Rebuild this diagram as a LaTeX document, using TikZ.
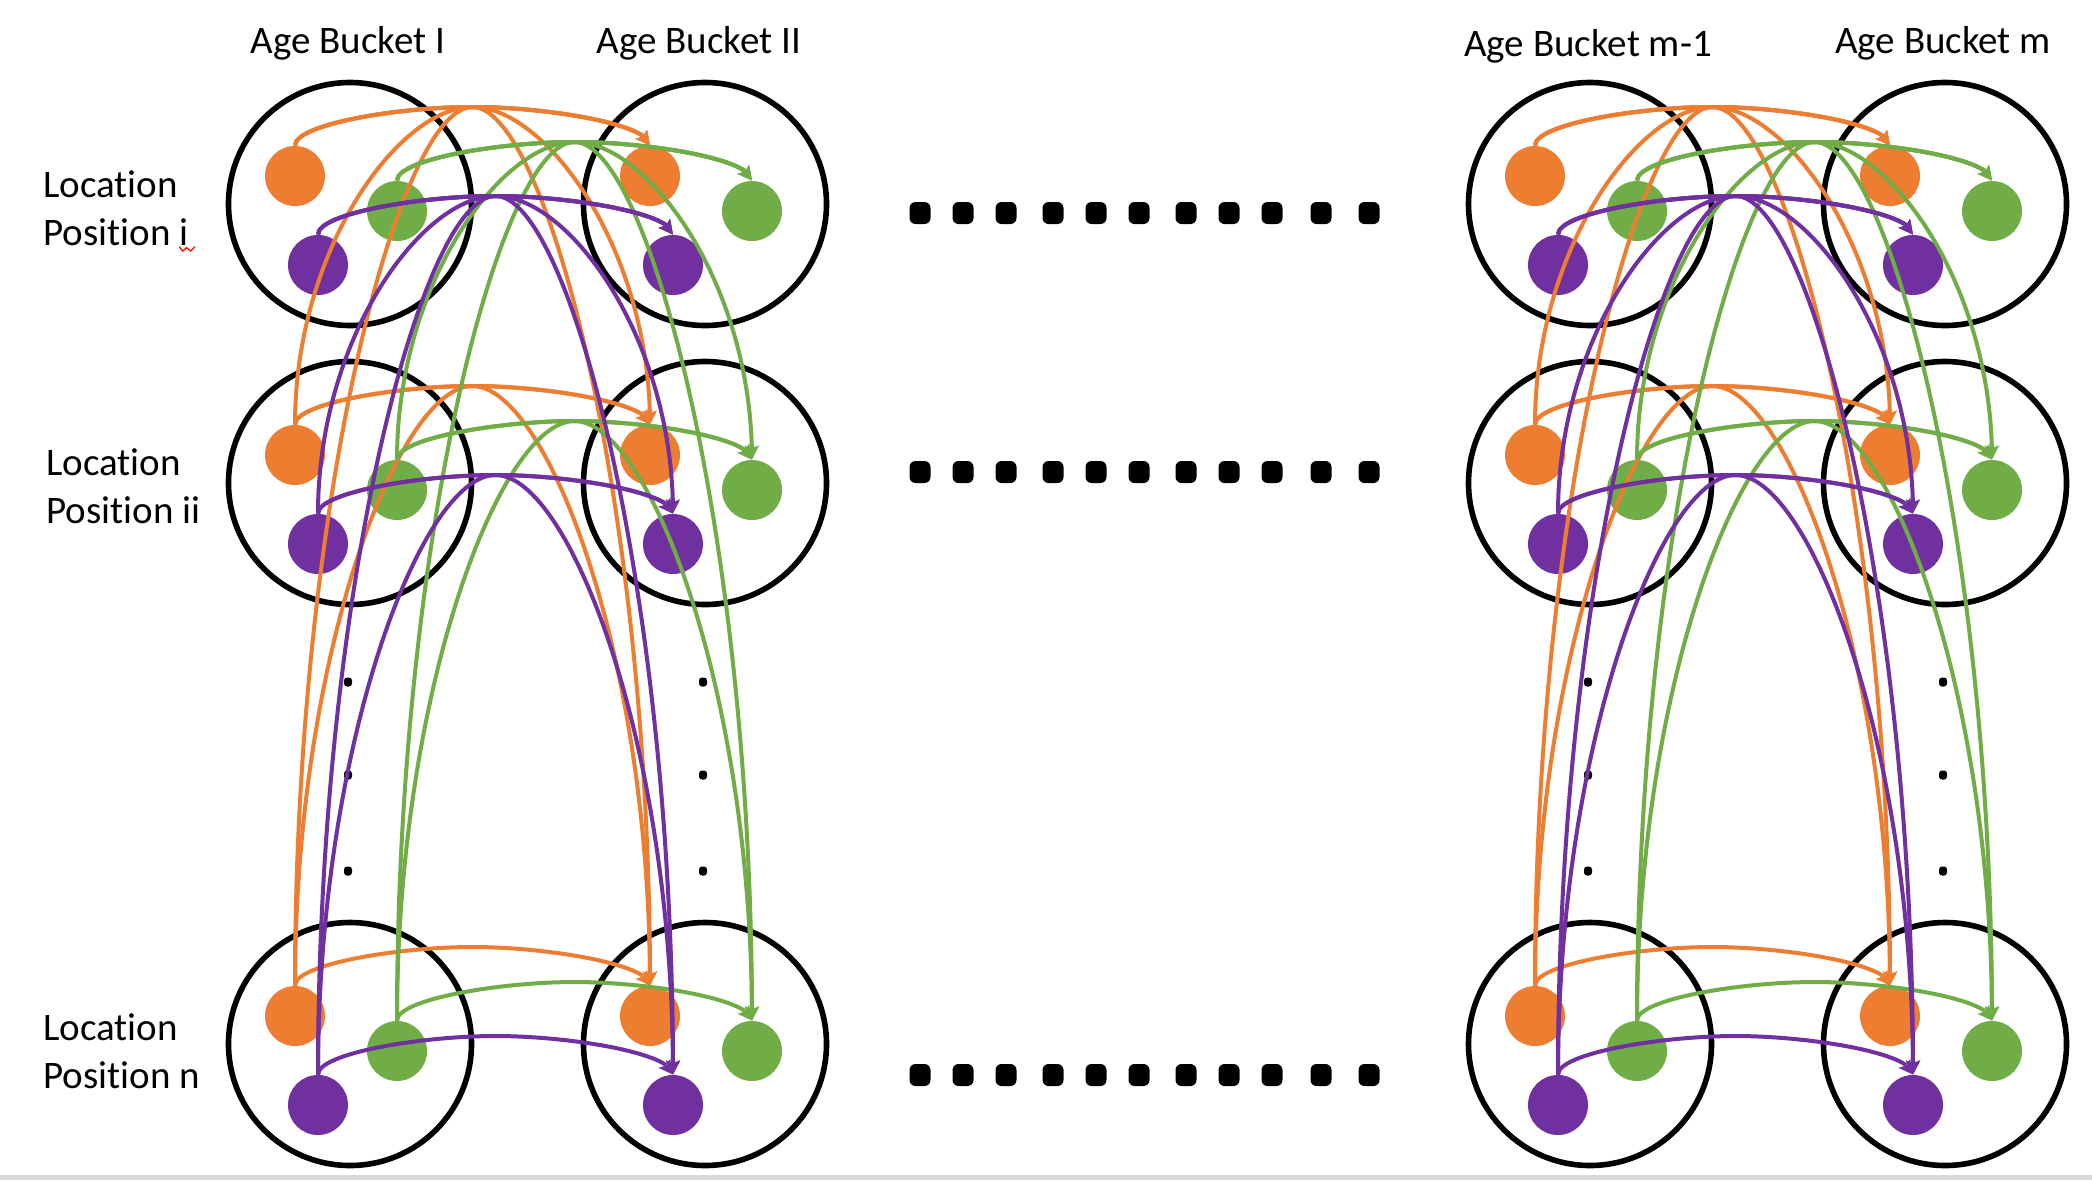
\documentclass[tikz,border=0pt]{standalone}
\usepackage{fontspec}
\setmainfont{Carlito}[Ligatures=NoCommon]
\usetikzlibrary{arrows.meta,bending}
\definecolor{ora}{HTML}{ED7D31}
\definecolor{grn}{HTML}{70AD47}
\definecolor{pur}{HTML}{7030A0}
\definecolor{stripgray}{HTML}{D9D9D9}
\begin{document}
\begin{tikzpicture}[x=0.5pt,y=-0.5pt,
  bucket/.style={circle,draw=black,line width=2.8pt,minimum size=121.5pt,inner sep=0pt},
  dotnode/.style={circle,fill=#1,draw=none,minimum size=30pt,inner sep=0pt},
  link/.style={draw=#1,line width=2pt,-{Stealth[length=7pt,width=7pt,inset=1.3pt,flex=1]}},
  lbl/.style={font=\fontsize{19.5}{23}\selectfont,inner sep=0pt},
  bigdot/.style={fill=black,rounded corners=3pt},
  smalldot/.style={fill=black,rounded corners=1.5pt}]
\useasboundingbox (0,0) rectangle (2092,1180);
\fill[white] (0,0) rectangle (2092,1180);
\fill[stripgray] (0,1175) rectangle (2092,1180);

% headers
\node[lbl,anchor=base] (hA) at (348,53) {Age Bucket I};
\node[lbl,anchor=base] (hB) at (699,53) {Age Bucket II};
\node[lbl,anchor=base] (hC) at (1588,56) {Age Bucket m-1};
\node[lbl,anchor=base] (hD) at (1943,53) {Age Bucket m};

% row labels
\node[lbl,anchor=base west] (l1a) at (43,197) {Location};
\node[lbl,anchor=base west] (l1b) at (43,245) {Position i};
\node[lbl,anchor=base west] (l2a) at (46,475) {Location};
\node[lbl,anchor=base west] (l2b) at (46,523) {Position ii};
\node[lbl,anchor=base west] (l3a) at (43,1040) {Location};
\node[lbl,anchor=base west] (l3b) at (43,1088) {Position n};
\draw[red,line width=0.65pt] (179.3,246.7) -- (182.7,251) -- (186.7,247.7) -- (190.7,251) -- (195,246.7);

% buckets and dots
\foreach \myp/\X in {L/0,R/1240} {
  \foreach \rr/\cy in {1/204,2/483,3/1044} {
    \node[bucket] (b\myp A\rr) at (350+\X,\cy) {};
    \node[bucket] (b\myp B\rr) at (705+\X,\cy) {};
    \foreach \myc/\col/\dx/\dy in {o/ora/-55/-28,g/grn/47/7,p/pur/-32/61} {
      \node[dotnode=\col] (\myc\myp A\rr) at (350+\X+\dx,\cy+\dy) {};
      \node[dotnode=\col] (\myc\myp B\rr) at (705+\X+\dx,\cy+\dy) {};
      \coordinate (ap\myc\myp\rr) at (527.5+\X+\dx,\cy+\dy-69);
    }
  }
  % vertical ellipsis dots
  \foreach \vy in {682,775,871} {
    \fill[smalldot] (344+\X,\vy-4.5) rectangle (352+\X,\vy+4.5);
    \fill[smalldot] (699+\X,\vy-4.5) rectangle (707+\X,\vy+4.5);
  }
}

% horizontal ellipsis dots
\foreach \hy in {213,472,1075} {
  \foreach \hx in {920,963,1006,1053,1096,1139,1186,1229,1272,1321,1369} {
    \fill[bigdot] (\hx-10.5,\hy-11) rectangle (\hx+10.5,\hy+11);
  }
}

% connectors: every source row to every target row, through the apex of the upper row
\foreach \myp in {L,R} {
  \foreach \myc/\col in {o/ora,g/grn,p/pur} {
    \foreach \sr/\ys in {1/204,2/483,3/1044} {
      \foreach \trow/\yt in {1/204,2/483,3/1044} {
        \pgfmathtruncatemacro\uu{min(\sr,\trow)}
        \pgfmathsetmacro\yu{min(\ys,\yt)}
        \pgfmathsetmacro\ctla{0.55*(\ys-\yu+39)}
        \pgfmathsetmacro\ctlb{0.55*(\yt-\yu+39)}
        \draw[link=\col] (\myc\myp A\sr.north) .. controls +(0,-\ctla) and +(-74,0) .. (ap\myc\myp\uu)
          .. controls +(74,0) and +(0,-\ctlb) .. (\myc\myp B\trow.north);
      }
    }
  }
}
\end{tikzpicture}
\end{document}
